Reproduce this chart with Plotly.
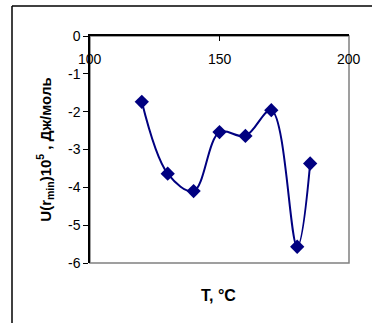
import plotly.graph_objects as go

T = [120, 130, 140, 150, 160, 170, 180, 185]
U = [-1.74, -3.64, -4.10, -2.54, -2.64, -1.96, -5.57, -3.37]
x_ticks = [100, 150, 200]
y_ticks = [0, -1, -2, -3, -4, -5, -6]

W, H = 372, 323
L, R, TOP, B = 90, 23, 36, 60
pw, ph = W - L - R, H - TOP - B

fig = go.Figure()
fig.add_trace(go.Scatter(
    x=T, y=U, mode="lines+markers",
    line=dict(color="#000080", width=2, shape="spline", smoothing=1.0),
    marker=dict(symbol="diamond", size=11, color="#000080"),
    showlegend=False,
))

font = dict(family="Liberation Sans, Arial, sans-serif", size=14, color="black")

annotations = [
    dict(text=str(v), xref="x", yref="paper", x=v, y=1 - (59 - TOP) / ph,
         showarrow=False, font=dict(size=14), xanchor="center", yanchor="middle")
    for v in x_ticks
]
annotations.append(
    dict(text="<b>T, °C</b>", xref="paper", yref="paper",
         x=(218 - L) / pw, y=1 - (295 - TOP) / ph, showarrow=False,
         font=dict(size=16), yanchor="middle"))

fig.update_layout(
    width=W, height=H,
    margin=dict(l=L, r=R, t=TOP, b=B),
    paper_bgcolor="white", plot_bgcolor="white",
    font=font,
    xaxis=dict(range=[100, 200], side="top", tickvals=x_ticks, ticks="inside",
               ticklen=5, tickcolor="black", showticklabels=False,
               showline=True, linecolor="black", linewidth=1.5,
               showgrid=False, zeroline=False),
    yaxis=dict(range=[-6, 0], tickvals=y_ticks, ticktext=[str(v) for v in y_ticks],
               ticks="outside", ticklen=5,
               tickcolor="black", showline=True, linecolor="black", linewidth=1.5,
               showgrid=False, zeroline=False,
               title=dict(text="<b>U(r<sub>min</sub>)10<sup>5</sup> , Дж/моль</b>",
                          font=dict(size=15), standoff=13)),
    shapes=[
        dict(type="rect", xref="paper", yref="paper", x0=0, y0=0, x1=1, y1=1,
             line=dict(color="#808080", width=1.5), layer="below"),
        dict(type="line", xref="paper", yref="paper",
             x0=(12 - L) / pw, y0=1 - (330 - TOP) / ph,
             x1=(12 - L) / pw, y1=1 + (TOP - 6) / ph,
             line=dict(color="black", width=1.5)),
        dict(type="line", xref="paper", yref="paper",
             x0=(12 - L) / pw, y0=1 + (TOP - 6) / ph,
             x1=(380 - L) / pw, y1=1 + (TOP - 6) / ph,
             line=dict(color="black", width=1.5)),
    ],
    annotations=annotations,
)

fig.write_html("out.html")
